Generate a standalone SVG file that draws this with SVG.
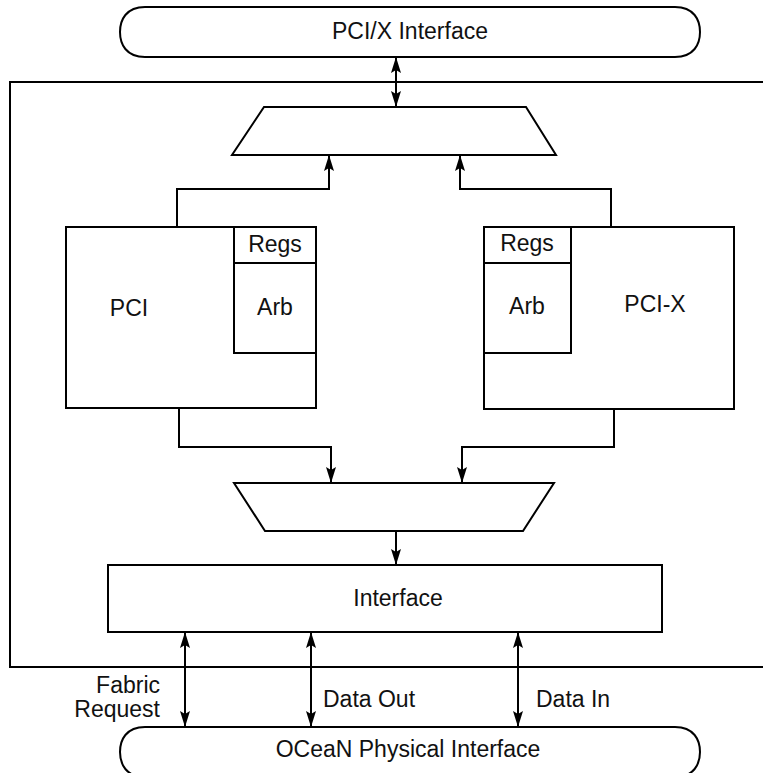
<svg xmlns="http://www.w3.org/2000/svg" width="763" height="773" viewBox="0 0 763 773">
<defs>
<style>
.s{fill:none;stroke:#000;stroke-width:2}
.b{fill:#fff;stroke:#000;stroke-width:2}
.c{fill:none;stroke:#000;stroke-width:2}
text{font-family:"Liberation Sans",Arial,sans-serif;font-size:23px;fill:#111}
.m{text-anchor:middle}
.e{text-anchor:end}
</style>
<marker id="ah" markerUnits="userSpaceOnUse" markerWidth="18" markerHeight="12" viewBox="-17 -6 18 12" refX="0" refY="0" orient="auto-start-reverse">
<path d="M0,0 L-16,-5 L-13,0 L-16,5 Z" fill="#000"/>
</marker>
</defs>
<rect width="763" height="773" fill="#fff"/>
<g id="frame"><path class="s" d="M763,82 H10 V667 H763"/></g>
<g id="pcix-interface">
<path class="b" d="M145,7 H675 C694,7 700,20 700,32 C700,44 694,57 675,57 H145 C126,57 120,44 120,32 C120,20 126,7 145,7 Z"/>
<text class="m" x="410" y="39">PCI/X Interface</text>
</g>
<g id="mux-top"><polygon class="b" points="264,107 526,107 556,155 232,155"/></g>
<g id="pci">
<rect class="b" x="66" y="227" width="250" height="181"/>
<rect class="b" x="234" y="227" width="82" height="36"/>
<rect class="b" x="234" y="263" width="82" height="90"/>
<text class="m" x="129" y="316">PCI</text>
<text class="m" x="275" y="252">Regs</text>
<text class="m" x="275" y="315">Arb</text>
</g>
<g id="pcix">
<rect class="b" x="484" y="227" width="250" height="182"/>
<rect class="b" x="484" y="227" width="87" height="36"/>
<rect class="b" x="484" y="263" width="87" height="90"/>
<text class="m" x="655" y="312">PCI-X</text>
<text class="m" x="527" y="251">Regs</text>
<text class="m" x="527" y="314">Arb</text>
</g>
<g id="mux-bottom"><polygon class="b" points="234,483 554,483 523,531 265,531"/></g>
<g id="interface">
<rect class="b" x="108" y="565" width="554" height="67"/>
<text class="m" x="398" y="606">Interface</text>
</g>
<g id="ocean-interface">
<path class="b" d="M145,727 H675 C694,727 700,740 700,752 C700,764 694,777 675,777 H145 C126,777 120,764 120,752 C120,740 126,727 145,727 Z"/>
<text class="m" x="408" y="757">OCeaN Physical Interface</text>
</g>
<g id="connectors">
<path class="c" d="M396,57 V107" marker-start="url(#ah)" marker-end="url(#ah)"/>
<path class="c" d="M177,227 V189 H329 V155" marker-end="url(#ah)"/>
<path class="c" d="M611,227 V189 H460 V155" marker-end="url(#ah)"/>
<path class="c" d="M179,408 V447 H331 V483" marker-end="url(#ah)"/>
<path class="c" d="M614,409 V447 H462 V483" marker-end="url(#ah)"/>
<path class="c" d="M396,531 V565" marker-end="url(#ah)"/>
<path class="c" d="M185,632 V727" marker-start="url(#ah)" marker-end="url(#ah)"/>
<path class="c" d="M311,632 V727" marker-start="url(#ah)" marker-end="url(#ah)"/>
<path class="c" d="M518,632 V727" marker-start="url(#ah)" marker-end="url(#ah)"/>
</g>
<g id="labels">
<text class="e" x="160" y="693">Fabric</text>
<text class="e" x="160" y="717">Request</text>
<text x="323" y="707">Data Out</text>
<text x="536" y="707">Data In</text>
</g>
</svg>
